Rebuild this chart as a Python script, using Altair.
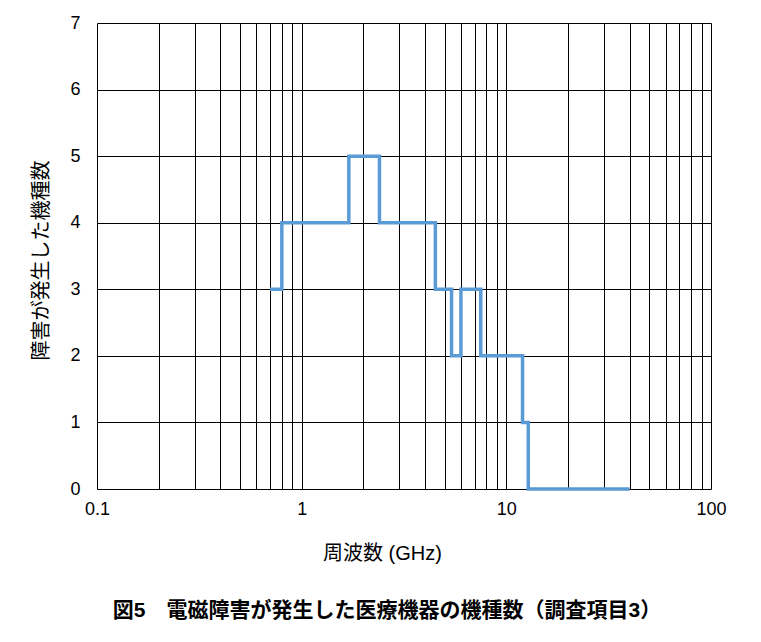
import altair as alt
import pandas as pd

# frequency (GHz) where each step starts, and number of device models affected
freq_ghz = [0.7, 0.8, 1.7, 2.4, 4.5, 5.4, 6.0, 7.5, 12.0, 12.8, 40.0]
n_models = [3, 4, 5, 4, 3, 2, 3, 2, 1, 0, 0]

x_tick_values = [0.1, 0.2, 0.3, 0.4, 0.5, 0.6, 0.7, 0.8, 0.9,
                 1, 2, 3, 4, 5, 6, 7, 8, 9,
                 10, 20, 30, 40, 50, 60, 70, 80, 90, 100]
x_labels = ["0.1", "1", "10", "100"]
y_tick_values = [0, 1, 2, 3, 4, 5, 6, 7]

df = pd.DataFrame({"freq": freq_ghz, "count": n_models})

label_font = "Liberation Sans"
jp_font = "Liberation Sans, Noto Sans CJK JP"

chart = alt.Chart(df).mark_line(
    interpolate="step-after", color="#5B9BD5", strokeWidth=3.5, strokeJoin="miter"
).encode(
    x=alt.X(
        "freq:Q",
        scale=alt.Scale(type="log", domain=[0.1, 100], nice=False),
        axis=alt.Axis(
            values=x_tick_values,
            labelExpr="datum.value == 0.1 ? '0.1' : (datum.value == 1 ? '1' : (datum.value == 10 ? '10' : (datum.value == 100 ? '100' : '')))",
            ticks=False,
            domain=False,
            grid=True,
            gridColor="black",
            gridOpacity=1,
            gridWidth=1,
            labelFont=label_font,
            labelFontSize=18,
            labelColor="black",
            labelPadding=11,
            labelFlush=False,
            labelOverlap=False,
            title="周波数 (GHz)",
            titleFont=jp_font,
            titleFontSize=20,
            titleFontWeight="normal",
            titleColor="black",
            titleX=285,
            titleY=64,
            titleBaseline="middle",
            titleAlign="center",
        ),
    ),
    y=alt.Y(
        "count:Q",
        scale=alt.Scale(domain=[0, 7], nice=False),
        axis=alt.Axis(
            values=y_tick_values,
            format="d",
            ticks=False,
            domain=False,
            grid=True,
            gridColor="black",
            gridOpacity=1,
            gridWidth=1,
            labelFont=label_font,
            labelFontSize=18,
            labelColor="black",
            labelPadding=17,
            title="障害が発生した機種数",
            titleFont=jp_font,
            titleFontSize=20,
            titleFontWeight="normal",
            titleColor="black",
            titleAngle=-90,
            titleX=-56,
            titleY=237,
            titleBaseline="middle",
            titleAlign="center",
        ),
    ),
).properties(
    width=614,
    height=466,
    padding={"left": 89, "top": 15, "right": 30, "bottom": 150},
    autosize=alt.AutoSizeParams(type="none"),
    title=alt.TitleParams(
        text="図5　電磁障害が発生した医療機器の機種数（調査項目3）",
        orient="bottom",
        anchor="middle",
        frame="group",
        font=jp_font,
        fontSize=21,
        fontWeight="bold",
        color="black",
        offset=37,
        dx=-17,
    ),
).configure_view(
    stroke="black", strokeWidth=1
).configure(background="white")

chart.save("out.html", embed_options={"renderer": "svg", "actions": False})
